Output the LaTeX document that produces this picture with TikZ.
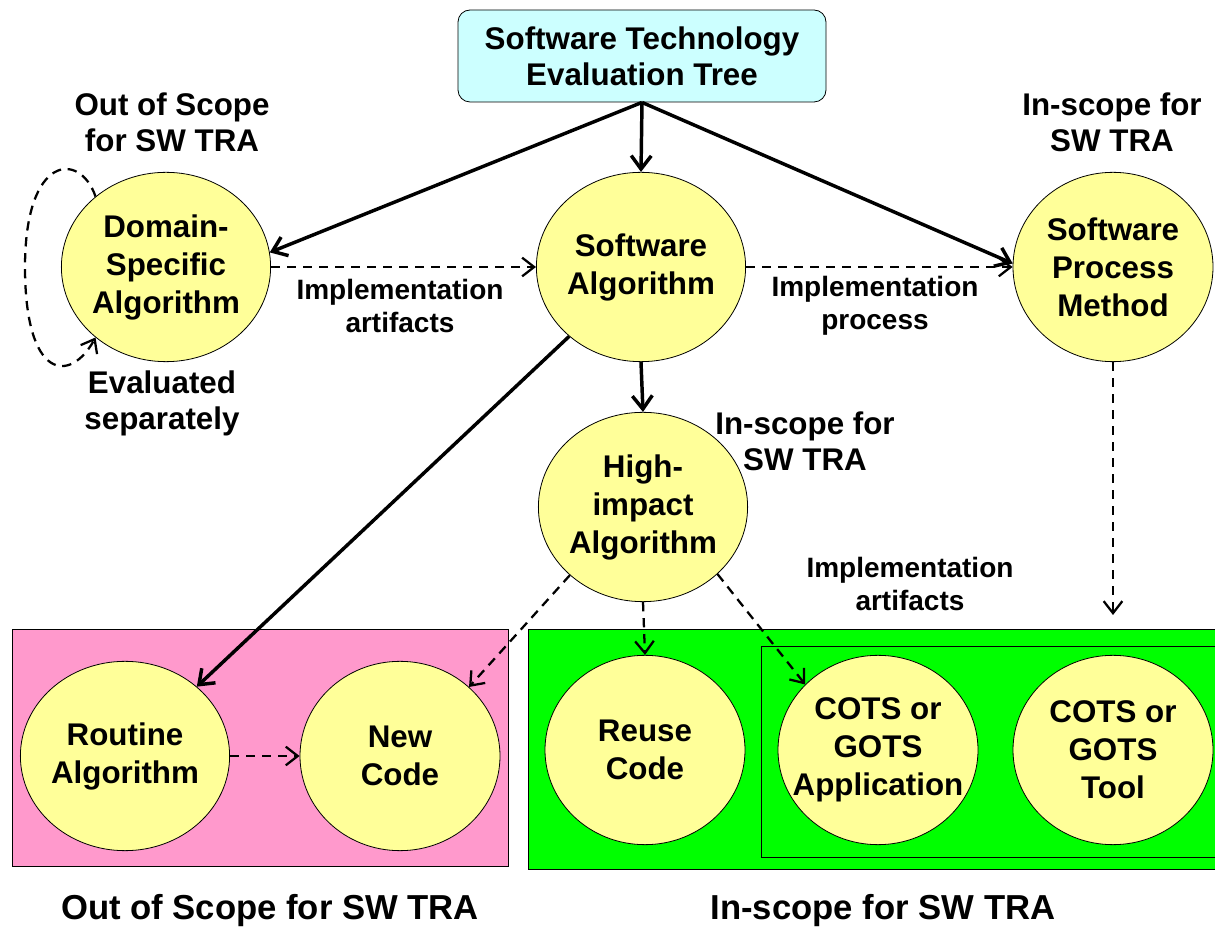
\documentclass[tikz,border=0pt]{standalone}
\usepackage{fontspec}
\setmainfont{Liberation Sans}
\usetikzlibrary{arrows.meta,shapes.geometric}
\definecolor{paleyellow}{RGB}{255,255,153}
\definecolor{palecyan}{RGB}{204,255,255}
\definecolor{rosepink}{RGB}{255,153,204}
\definecolor{limegreen}{RGB}{0,255,0}

\begin{document}
\begin{tikzpicture}[x=0.75pt, y=0.75pt,
    algo/.style={ellipse, draw, fill=paleyellow, line width=0.6pt, minimum width=150pt,
      minimum height=142pt, inner sep=0pt, align=center,
      font=\bfseries\fontsize{23.5}{28.5}\selectfont},
    lbl/.style={align=center, font=\bfseries\fontsize{23.5}{27}\selectfont},
    smlbl/.style={align=center, font=\bfseries\fontsize{21}{25}\selectfont},
    biglbl/.style={font=\bfseries\fontsize{26}{30}\selectfont},
    solidarrow/.style={-{Straight Barb[length=10pt,width=15pt]}, line width=2.6pt},
    dasharrow/.style={-{Straight Barb[length=9pt,width=14pt]}, line width=1.7pt,
      dash pattern=on 7pt off 5pt}]
%      \draw [help lines, opacity=0.5] (0,0) grid[step=100] (1215,929);
      \useasboundingbox (0,0) rectangle (1215,929);

      % scope boxes
      \draw [fill=rosepink, line width=0.6pt] (12,63) rectangle (508,300);
      \draw [fill=limegreen, line width=0.6pt] (528,60) rectangle (1225,300);
      \draw [line width=0.6pt] (761,72) rectangle (1225,283);

      \node [draw, fill=palecyan, rounded corners=9pt, line width=0.6pt, minimum width=276pt,
        minimum height=69pt, align=center, font=\bfseries\fontsize{23.5}{27}\selectfont]
        (tree) at (642,873) {Software Technology\\Evaluation Tree};

      \node [algo] (dsa) at (166,662) {Domain-\\Specific\\Algorithm};
      \node [algo] (swa) at (641,662) {Software\\Algorithm};
      \node [algo] (spm) at (1113,662) {Software\\Process\\Method};
      \node [algo] (hia) at (643,422) {High-\\impact\\Algorithm};
      \node [algo] (rta) at (125,173) {Routine\\Algorithm};
      \node [algo] (nwc) at (400,173) {New\\Code};
      \node [algo] (ruc) at (645,179) {Reuse\\Code};
      \node [algo, inner xsep=-11pt] (cga) at (878,179) {COTS or\\GOTS\\Application};
      \node [algo] (cgt) at (1113,179) {COTS or\\GOTS\\Tool};

      \node [lbl] (oostop) at (172,807) {Out of Scope\\for SW TRA};
      \node [lbl] (evsep) at (162,526) {Evaluated\\separately};
      \node [lbl] (instop) at (1112,807) {In-scope for\\SW TRA};
      \node [lbl] (insmid) at (805,488) {In-scope for\\SW TRA};
      \node [smlbl] (impart) at (400,623) {Implementation\\artifacts};
      \node [smlbl] (impproc) at (875,623) {Implementation\\process};
      \node [smlbl] (impart2) at (910,345) {Implementation\\artifacts};
      \node [biglbl] (oosbot) at (270,18) {Out of Scope for SW TRA};
      \node [biglbl] (insbot) at (883,18) {In-scope for SW TRA};

      \coordinate (spmend) at (1113,314);

      % solid arrows
      \draw [solidarrow] (tree.south) -- (dsa.8);
      \draw [solidarrow] (tree.south) -- (swa.north);
      \draw [solidarrow] (tree.south) -- (spm.178);
      \draw [solidarrow] (swa.south) -- (hia.north);
      \draw [solidarrow] (swa.224) -- (rta.44);

      % dashed arrows
      \draw [dasharrow] (dsa.east) -- (swa.west);
      \draw [dasharrow] (swa.east) -- (spm.west);
      \draw [dasharrow] (spm.south) -- (spmend);
      \draw [dasharrow] (hia.223) -- (nwc.45);
      \draw [dasharrow] (hia.south) -- (ruc.north);
      \draw [dasharrow] (hia.318) -- (cga.138);
      \draw [dasharrow] (rta.east) -- (nwc.west);
      \draw [dasharrow] (dsa.135) .. controls (80,778) and (25,775) .. (25,662)
        .. controls (25,549) and (70,545) .. (dsa.225);
\end{tikzpicture}
\end{document}
